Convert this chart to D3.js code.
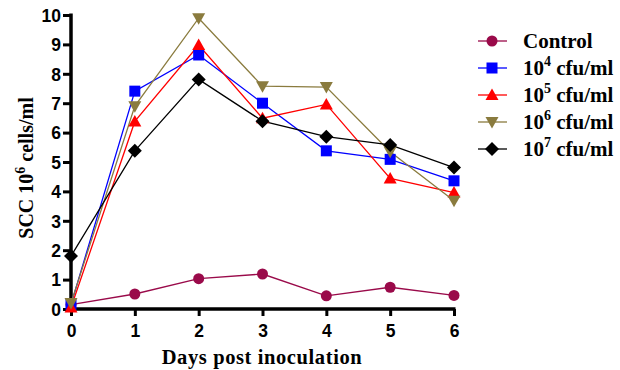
<!DOCTYPE html>
<html><head><meta charset="utf-8">
<script src="https://cdn.jsdelivr.net/npm/d3@7"></script>
<style>body{margin:0;background:#fff}</style>
</head><body>
<svg id="c" width="620" height="370"></svg>
<script>
const days = [0,1,2,3,4,5,6];
const xTicks = [0,1,2,3,4,5,6];
const yTicks = [0,1,2,3,4,5,6,7,8,9,10];
const control = [0.15,0.51,1.03,1.19,0.45,0.74,0.46];
const cfu4 = [0.15,7.41,8.64,7.0,5.38,5.09,4.36];
const cfu5 = [0.05,6.38,8.98,6.49,6.96,4.44,3.96];
const cfu6 = [0.2,6.9,9.89,7.58,7.55,5.35,3.68];
const cfu7 = [1.8,5.38,7.81,6.39,5.86,5.58,4.81];
const seriesNames = ["Control","10^4 cfu/ml","10^5 cfu/ml","10^6 cfu/ml","10^7 cfu/ml"];
const seriesExp = [null,"4","5","6","7"];
const colors = ["#9a0a4a","#0000ff","#ff0000","#8a7b3e","#000000"];
const shapes = ["circle","square","triangle","triangleDown","diamond"];
const allSeries = [control,cfu4,cfu5,cfu6,cfu7];

const svg = d3.select("#c");
const x = d3.scaleLinear().domain([0,6]).range([71,454]);
const y = d3.scaleLinear().domain([0,10]).range([309,15]);
const serif = "Liberation Serif, Times New Roman, serif";

function marker(sel, shape, color){
  if(shape==="circle") sel.append("circle").attr("r",5.5).attr("fill",color);
  else if(shape==="square") sel.append("rect").attr("x",-5.5).attr("y",-5.5).attr("width",11).attr("height",11).attr("fill",color);
  else if(shape==="triangle") sel.append("path").attr("d","M0,-6.5L6.5,5L-6.5,5Z").attr("fill",color);
  else if(shape==="triangleDown") sel.append("path").attr("d","M0,6.5L6.5,-5L-6.5,-5Z").attr("fill",color);
  else sel.append("path").attr("d","M0,-7L7,0L0,7L-7,0Z").attr("fill",color);
}

// axes
const xAxis = d3.axisBottom(x).tickValues(xTicks).tickSize(7).tickFormat(d3.format("d"));
const yAxis = d3.axisLeft(y).tickValues(yTicks).tickSize(8).tickFormat(d3.format("d"));
const gx = svg.append("g").attr("transform","translate(0,309)").call(xAxis);
const gy = svg.append("g").attr("transform","translate(71,0)").call(yAxis);
[gx,gy].forEach(g=>{
  g.select(".domain").attr("stroke","#000").attr("stroke-width",3.5);
  g.selectAll(".tick line").attr("stroke","#000").attr("stroke-width",3);
  g.selectAll(".tick text").attr("font-family","Liberation Sans, Arial, sans-serif").attr("font-weight","bold").attr("font-size",17.5).attr("fill","#000");
});
gx.select(".domain").attr("d","M69.5,0H455.5");
gy.select(".domain").attr("d","M0,13.5V310.5");
gx.selectAll(".tick text").attr("dy",0).attr("y",28);
gy.selectAll(".tick text").attr("x",-10).attr("dy","0.36em");

// lines & markers
const line = d3.line().x((d,i)=>x(days[i])).y(d=>y(d));
allSeries.forEach((s,k)=>{
  svg.append("path").datum(s).attr("d",line).attr("fill","none").attr("stroke",colors[k]).attr("stroke-width",1.3);
});
allSeries.forEach((s,k)=>{
  s.forEach((v,i)=>{
    const g = svg.append("g").attr("transform",`translate(${x(days[i])},${y(v)})`);
    marker(g,shapes[k],colors[k]);
  });
});

// axis titles
svg.append("text").attr("x",262).attr("y",364).attr("text-anchor","middle")
  .attr("font-family",serif).attr("font-weight","bold").attr("font-size",20.5)
  .attr("letter-spacing","0.6px").text("Days post inoculation");
const yt = svg.append("text").attr("transform","translate(33,168) rotate(-90)").attr("text-anchor","middle")
  .attr("font-family",serif).attr("font-weight","bold").attr("font-size",20);
yt.append("tspan").text("SCC 10");
yt.append("tspan").attr("font-size",14).attr("dy",-8).text("6");
yt.append("tspan").attr("dy",8).text(" cells/ml");

// legend
const ly = [41,68,95,122,149];
seriesNames.forEach((n,k)=>{
  const g = svg.append("g").attr("transform",`translate(492,${ly[k]})`);
  g.append("line").attr("x1",-14).attr("x2",15).attr("stroke",colors[k]).attr("stroke-width",1.3);
  marker(g,shapes[k],colors[k]);
  const t = g.append("text").attr("x",31).attr("y",7)
    .attr("font-family",serif).attr("font-weight","bold").attr("font-size",21).attr("fill","#000");
  if(seriesExp[k]===null) t.text(n);
  else {
    t.append("tspan").text("10");
    t.append("tspan").attr("font-size",14).attr("dy",-9).text(seriesExp[k]);
    t.append("tspan").attr("dy",9).text(" cfu/ml");
  }
});
</script>
</body></html>
